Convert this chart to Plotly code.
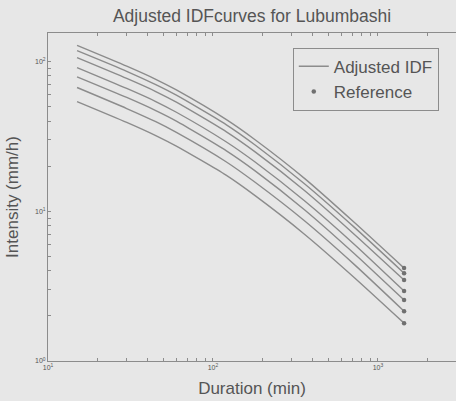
import plotly.graph_objects as go

durations = [15, 30, 45, 60, 120, 180, 360, 720, 1440]
series = [
    [128, 93, 76, 64.5, 41, 30, 16.5, 8.4, 4.17],
    [118, 86, 70, 59.5, 37.9, 27.7, 15.2, 7.8, 3.86],
    [106, 77, 63, 53.5, 34, 24.9, 13.7, 7.0, 3.47],
    [91, 66, 54, 45.8, 29.1, 21.3, 11.7, 6.0, 2.93],
    [79, 57.5, 47, 40, 25.4, 18.6, 10.2, 5.2, 2.55],
    [67, 48.5, 39.6, 33.6, 21.4, 15.6, 8.6, 4.4, 2.15],
    [54, 39.2, 32, 27.2, 17.4, 12.7, 7.0, 3.6, 1.79],
]
ref_duration = [1440] * 7
ref_values = [4.17, 3.86, 3.47, 2.93, 2.55, 2.15, 1.79]

x_major = [10, 100, 1000]
x_major_text = ["10<sup>1</sup>", "10<sup>2</sup>", "10<sup>3</sup>"]
x_minor = [m * 10 ** e for e in (1, 2, 3) for m in range(2, 10)]
y_major = [1, 10, 100]
y_major_text = ["10<sup>0</sup>", "10<sup>1</sup>", "10<sup>2</sup>"]
y_minor = [m * 10 ** e for e in (0, 1, 2) for m in range(2, 10)]

bg = "#e7e7e7"
line_col = "#8c8c8c"
text_col = "#555555"

fig = go.Figure()
for i, s in enumerate(series):
    fig.add_trace(go.Scatter(
        x=durations, y=s, mode="lines", line_shape="spline",
        line=dict(color=line_col, width=1.4, smoothing=0.6),
        name="Adjusted IDF", showlegend=(i == 0),
    ))
fig.add_trace(go.Scatter(
    x=ref_duration, y=ref_values, mode="markers",
    marker=dict(color="#707070", size=4.5),
    name="Reference",
))

axis_common = dict(
    type="log", showgrid=False, zeroline=False,
    showline=True, linecolor="#8c8c8c", linewidth=1,
    ticks="inside", ticklen=3, tickcolor="#8c8c8c", tickfont=dict(size=7),
)

fig.update_layout(
    width=456, height=401,
    margin=dict(l=48, r=0, t=33, b=40),
    paper_bgcolor=bg, plot_bgcolor=bg,
    font=dict(family="Liberation Sans, Arial, sans-serif", color=text_col, size=13),
    title=dict(text="Adjusted IDFcurves for Lubumbashi", x=0.5, xref="paper",
               y=1 - 16 / 401, yanchor="middle", font=dict(size=17.5, color=text_col)),
    legend=dict(x=0.6, y=0.955, xanchor="left", yanchor="top",
                bgcolor=bg, bordercolor="#8c8c8c", borderwidth=1,
                font=dict(size=17, color=text_col), tracegroupgap=0),
    xaxis=dict(**axis_common, range=[1, 3.473], mirror="ticks",
               tickvals=x_major, ticktext=x_major_text,
               minor=dict(tickvals=x_minor, ticks="inside", ticklen=3, tickcolor="#8c8c8c"),
               title=dict(text="Duration (min)", font=dict(size=17), standoff=11)),
    yaxis=dict(**axis_common, range=[0, 2.19],
               tickvals=y_major, ticktext=y_major_text,
               minor=dict(tickvals=y_minor, ticks="inside", ticklen=3, tickcolor="#8c8c8c"),
               title=dict(text="Intensity (mm/h)", font=dict(size=17), standoff=12)),
)

fig.write_html("out.html")
